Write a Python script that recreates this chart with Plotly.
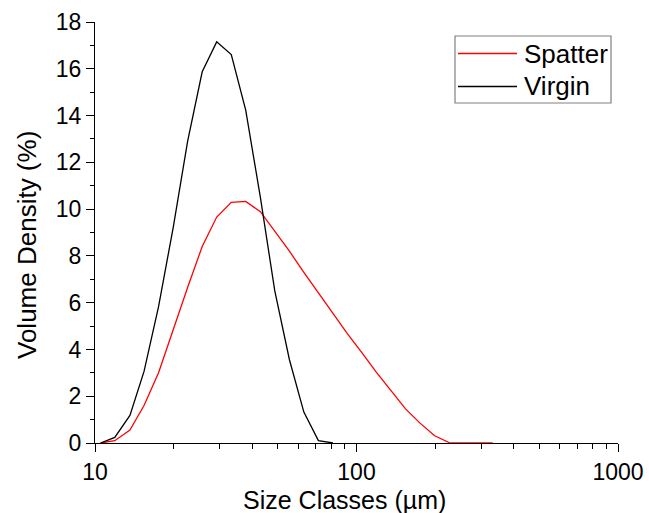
import plotly.graph_objects as go

size_classes = [10.5, 11.9, 13.6, 15.4, 17.5, 19.9, 22.6, 25.7, 29.2, 33.2, 37.7, 42.9,
                48.7, 55.4, 62.9, 71.5, 81.3, 92.4, 105, 119, 136, 154, 175, 199,
                226, 257, 292, 332]
spatter = [0, 0.1, 0.55, 1.6, 3.0, 4.85, 6.65, 8.4, 9.66, 10.29, 10.33, 9.89,
           9.05, 8.2, 7.3, 6.42, 5.54, 4.67, 3.85, 3.03, 2.22, 1.46, 0.85, 0.31,
           0.02, 0, 0, 0]
virgin = [0, 0.24, 1.18, 3.06, 5.83, 9.2, 12.9, 15.87, 17.15, 16.61, 14.23, 10.5,
          6.5, 3.56, 1.32, 0.1, 0.0]
series_names = ["Spatter", "Virgin"]
series_colors = ["#ff0000", "#000000"]
x_major = [10, 100, 1000]
x_minor = [20, 30, 40, 50, 60, 70, 80, 90, 200, 300, 400, 500, 600, 700, 800, 900]

FONT = "Liberation Sans, Arial, sans-serif"
W, H = 649, 513
L, R, T, B = 95, 31, 22, 70
PW, PH = W - L - R, H - T - B


def px_x(p):
    return (p - L) / PW


def px_y(p):
    return (H - B - p) / PH


fig = go.Figure()
for name, vals, col in zip(series_names, [spatter, virgin], series_colors):
    fig.add_trace(go.Scatter(x=size_classes[:len(vals)], y=vals, mode="lines",
                             name=name, line=dict(color=col, width=1.3)))

# custom legend (box, sample lines, labels)
shapes = [dict(type="rect", xref="paper", yref="paper",
               x0=px_x(455), x1=px_x(611), y0=px_y(103), y1=px_y(36),
               line=dict(color="#808080", width=1.2), fillcolor="white", layer="above")]
annotations = []
for i, (name, col) in enumerate(zip(series_names, series_colors)):
    yy = 53.5 + i * 33
    shapes.append(dict(type="line", xref="paper", yref="paper",
                       x0=px_x(458), x1=px_x(517), y0=px_y(yy), y1=px_y(yy),
                       line=dict(color=col, width=1.3), layer="above"))
    annotations.append(dict(text=name, xref="paper", yref="paper",
                            x=px_x(522), y=px_y(yy), xanchor="left", yanchor="middle",
                            showarrow=False, font=dict(size=26, family=FONT, color="#000")))

annotations.append(dict(text="Size Classes (µm)", xref="paper", yref="paper",
                        x=px_x(344.5), y=px_y(500), xanchor="center", yanchor="middle",
                        showarrow=False, font=dict(size=25, family=FONT, color="#000")))
annotations.append(dict(text="Volume Density (%)", xref="paper", yref="paper",
                        x=px_x(27), y=px_y(245), xanchor="center", yanchor="middle",
                        textangle=-90, showarrow=False,
                        font=dict(size=26, family=FONT, color="#000")))

fig.update_layout(
    width=W, height=H,
    margin=dict(l=L, r=R, t=T, b=B, autoexpand=False),
    paper_bgcolor="white", plot_bgcolor="white",
    font=dict(family=FONT, size=23, color="#000000"),
    showlegend=False,
    shapes=shapes,
    annotations=annotations,
    xaxis=dict(type="log", range=[1, 3], tickvals=x_major, ticktext=["10", "100", "1000"],
               ticks="outside", ticklen=8, tickwidth=1.3, tickcolor="#000",
               showline=True, linecolor="#000", linewidth=1.3, showgrid=False,
               zeroline=False, tickfont=dict(size=23), automargin=False,
               minor=dict(tickvals=x_minor, ticks="outside", ticklen=5, tickwidth=1.3,
                          tickcolor="#000", showgrid=False)),
    yaxis=dict(range=[0, 18], dtick=2, tick0=0,
               ticks="outside", ticklen=8, tickwidth=1.3, tickcolor="#000",
               showline=True, linecolor="#000", linewidth=1.3, showgrid=False,
               zeroline=False, tickfont=dict(size=23), automargin=False,
               minor=dict(dtick=1, ticks="outside", ticklen=4, tickwidth=1.3,
                          tickcolor="#000", showgrid=False)),
)

fig.write_html("out.html")
